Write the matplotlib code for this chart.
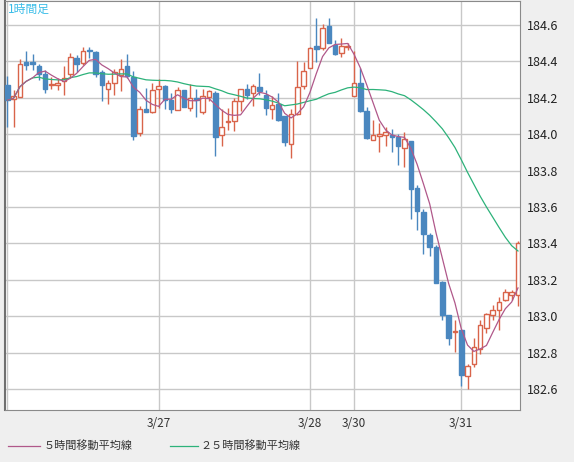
import matplotlib
matplotlib.use("Agg")
import matplotlib.pyplot as plt
from matplotlib.lines import Line2D
import numpy as np
import pandas as pd

plt.rcParams['font.family'] = ['Noto Sans CJK JP', 'DejaVu Sans']

# 1-hour OHLC
opens = [184.273, 184.195, 184.205, 184.395, 184.395, 184.376, 184.333, 184.271, 184.271, 184.291,
         184.329, 184.420, 184.391, 184.464, 184.453, 184.340, 184.249, 184.282, 184.327, 184.376,
         184.315, 184.009, 184.136, 184.122, 184.249, 184.267, 184.187, 184.133, 184.245, 184.145,
         184.200, 184.122, 184.205, 184.227, 183.995, 184.067, 184.075, 184.184, 184.249, 184.227,
         184.260, 184.218, 184.140, 184.164, 184.100, 183.947, 184.109, 184.267, 184.364, 184.485,
         184.473, 184.595, 184.491, 184.445, 184.482, 184.209, 184.282, 184.125, 183.969, 183.991,
         183.998, 183.998, 183.987, 183.927, 183.965, 183.704, 183.573, 183.445, 183.382, 183.187,
         183.005, 182.915, 182.922, 182.673, 182.740, 182.818, 182.936, 183.009, 183.036, 183.087,
         183.115, 183.118]
highs = [184.318, 184.245, 184.413, 184.455, 184.442, 184.387, 184.351, 184.315, 184.311, 184.373,
         184.449, 184.436, 184.478, 184.478, 184.460, 184.355, 184.300, 184.358, 184.413, 184.442,
         184.345, 184.155, 184.255, 184.282, 184.304, 184.273, 184.224, 184.260, 184.245, 184.276,
         184.249, 184.249, 184.245, 184.236, 184.136, 184.145, 184.200, 184.249, 184.278, 184.278,
         184.336, 184.242, 184.209, 184.224, 184.100, 184.136, 184.400, 184.395, 184.482, 184.636,
         184.605, 184.636, 184.518, 184.527, 184.504, 184.455, 184.364, 184.151, 184.078, 184.064,
         184.040, 184.027, 184.000, 184.013, 183.965, 183.722, 183.587, 183.455, 183.391, 183.195,
         183.005, 182.982, 182.922, 182.740, 182.882, 182.982, 183.018, 183.060, 183.104, 183.151,
         183.145, 183.415]
lows = [184.040, 184.040, 184.205, 184.355, 184.355, 184.296, 184.224, 184.249, 184.242, 184.218,
        184.315, 184.340, 184.380, 184.418, 184.315, 184.182, 184.164, 184.215, 184.236, 184.307,
        183.969, 183.991, 184.122, 184.115, 184.145, 184.140, 184.115, 184.133, 184.151, 184.127,
        184.096, 184.109, 184.182, 183.878, 183.936, 184.024, 184.018, 184.125, 184.195, 184.155,
        184.218, 184.104, 184.085, 184.073, 183.933, 183.867, 184.104, 184.249, 184.364, 184.395,
        184.464, 184.500, 184.436, 184.424, 184.464, 184.209, 184.122, 183.976, 183.969, 183.900,
        183.933, 183.900, 183.831, 183.818, 183.536, 183.476, 183.340, 183.331, 183.182, 182.982,
        182.842, 182.805, 182.615, 182.600, 182.722, 182.795, 182.909, 182.982, 182.922, 183.082,
        183.091, 183.055]
closes = [184.187, 184.209, 184.387, 184.380, 184.385, 184.333, 184.249, 184.276, 184.282, 184.307,
          184.424, 184.384, 184.460, 184.455, 184.333, 184.271, 184.282, 184.340, 184.358, 184.322,
          183.991, 184.140, 184.122, 184.245, 184.267, 184.187, 184.140, 184.245, 184.151, 184.198,
          184.187, 184.209, 184.235, 183.987, 184.042, 184.071, 184.184, 184.249, 184.218, 184.267,
          184.235, 184.145, 184.158, 184.078, 183.958, 184.109, 184.260, 184.347, 184.473, 184.471,
          184.582, 184.500, 184.440, 184.485, 184.487, 184.282, 184.127, 183.980, 183.998, 184.000,
          184.015, 183.987, 183.936, 183.976, 183.700, 183.576, 183.453, 183.380, 183.182, 183.005,
          182.882, 182.918, 182.676, 182.727, 182.831, 182.951, 183.013, 183.036, 183.078, 183.131,
          183.133, 183.400]

date_pos = [0, 24, 48, 55, 72]
date_labels = ["", "3/27", "3/28", "3/30", "3/31"]
y_ticks = [182.6, 182.8, 183.0, 183.2, 183.4, 183.6, 183.8, 184.0, 184.2, 184.4, 184.6]

UP = "#d9644a"
DOWN = "#4a87bf"
MA5_C = "#b0588a"
MA25_C = "#2db27a"

n = len(closes)
x = np.arange(n)
cl = pd.Series(closes)
ma5 = cl.rolling(5, min_periods=1).mean()
ma25 = cl.rolling(25, min_periods=1).mean()

fig = plt.figure(figsize=(5.74, 4.62), dpi=100)
fig.patch.set_facecolor("#efefef")
ax = fig.add_axes([5/574, 52/462, 515/574, 409/462])
ax.set_facecolor("white")

for i in range(n):
    o, h, l, c = opens[i], highs[i], lows[i], closes[i]
    up = c >= o
    col = UP if up else DOWN
    top, bot = max(o, c), min(o, c)
    ax.vlines(i, top, h, color=col, lw=1, zorder=3)
    ax.vlines(i, l, bot, color=col, lw=1, zorder=3)
    ax.bar(i, max(top - bot, 0.002), bottom=bot, width=0.72,
           facecolor="white" if up else col, edgecolor=col, lw=1, zorder=4)

ax.plot(x, ma25, color=MA25_C, lw=0.9, zorder=5)
ax.plot(x, ma5, color=MA5_C, lw=0.9, zorder=5)

ax.set_xlim(-0.365, 81.32)
ax.set_ylim(182.485, 184.732)
ax.set_xticks(date_pos)
ax.set_xticklabels(date_labels, fontsize=8.5, color="#333333")
ax.yaxis.tick_right()
ax.set_yticks(y_ticks)
ax.set_yticklabels([f"{v:.1f}" for v in y_ticks], fontsize=9, color="#222222")
ax.tick_params(length=0, pad=5)
ax.grid(True, color="#c8c8c8", lw=1)
ax.set_axisbelow(True)
for s in ax.spines.values():
    s.set_color("#8a8a8a")
ax.spines["left"].set_color("#707070")
ax.spines["left"].set_linewidth(1.5)

ax.text(0.005, 0.995, "1時間足", transform=ax.transAxes, ha="left", va="top",
        fontsize=8.5, color="#3bbde8")

# legend
fig.add_artist(Line2D([8/574, 40/574], [16/462, 16/462], color=MA5_C, lw=0.9))
fig.text(44/574, 16/462, "５時間移動平均線", fontsize=8, va="center", color="#333333")
fig.add_artist(Line2D([170/574, 198/574], [16/462, 16/462], color=MA25_C, lw=0.9))
fig.text(200/574, 16/462, "２５時間移動平均線", fontsize=8, va="center", color="#333333")

fig.savefig("out.png", dpi=100, facecolor=fig.get_facecolor())
